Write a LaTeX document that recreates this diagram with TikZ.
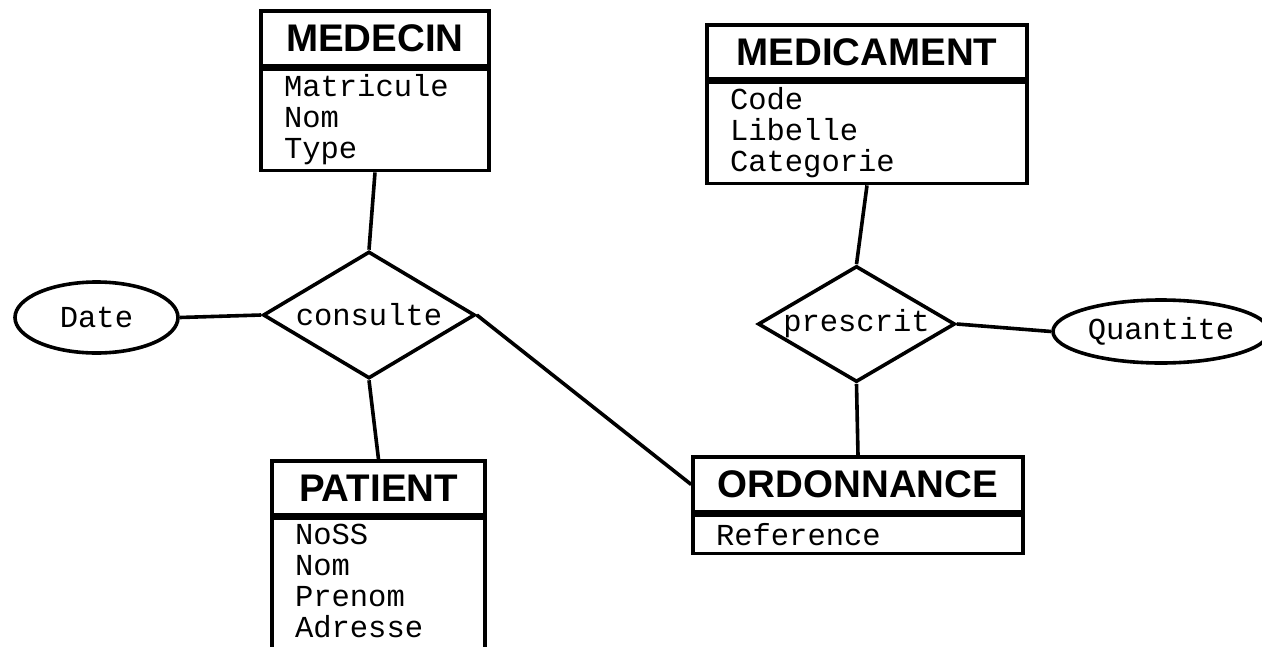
\documentclass[tikz,border=0pt]{standalone}
\usepackage{fontspec}
\newfontfamily\titrefont{Liberation Sans}
\newfontfamily\attrfont{Liberation Mono}
\usetikzlibrary{shapes.geometric}

\begin{document}
\begin{tikzpicture}[x=1pt, y=-1pt, line width=3.6pt,
		entete/.style={draw, inner sep=0pt, font=\titrefont\bfseries\fontsize{38.5}{40}\selectfont},
		corps/.style={draw, anchor=north, inner xsep=23pt, inner ysep=0pt, align=left, font=\attrfont\fontsize{30.5}{31}\selectfont},
		assoc/.style={draw, diamond, inner sep=0pt, font=\attrfont\fontsize{30.5}{31}\selectfont},
		propriete/.style={draw, ellipse, inner sep=0pt, font=\attrfont\fontsize{30.5}{31}\selectfont}]
		\useasboundingbox (0,0) rectangle (1262,646);
		
		% Entites
		\node[entete, minimum width=228pt, minimum height=55pt] (medecin) at (375,38.5) {MEDECIN};
		\node[corps, text width=182pt, minimum height=101pt] (medecin-attr) at (medecin.south) {Matricule\\Nom\\Type};
		
		\node[entete, minimum width=320pt, minimum height=54pt] (medicament) at (867,52) {MEDICAMENT};
		\node[corps, text width=274pt, minimum height=101pt] (medicament-attr) at (medicament.south) {Code\\Libelle\\Categorie};
		
		\node[entete, minimum width=213pt, minimum height=54pt] (patient) at (378.5,488) {PATIENT};
		\node[corps, text width=167pt, minimum height=136pt, text depth=104pt] (patient-attr) at (patient.south) {NoSS\\Nom\\Prenom\\Adresse};
		
		\node[entete, minimum width=330pt, minimum height=55pt] (ordonnance) at (858,484.5) {ORDONNANCE};
		\node[corps, text width=284pt, minimum height=38pt] (ordonnance-attr) at (ordonnance.south) {Reference};
		
		% Associations
		\node[assoc, aspect=1.68, minimum width=212pt, minimum height=127pt] (consulte) at (369,315) {consulte};
		\node[assoc, aspect=1.7, minimum width=197pt, minimum height=116pt] (prescrit) at (856.5,324) {prescrit};
		
		% Proprietes
		\node[propriete, minimum width=163pt, minimum height=71pt] (date) at (96.5,317.5) {Date};
		\node[propriete, minimum width=216pt, minimum height=63pt] (quantite) at (1161,331.5) {Quantite};
		
		% Liens
		\draw (medecin-attr.south) -- (consulte.north);
		\draw (consulte.south) -- (patient.north);
		\draw (date.east) -- (consulte.west);
		\draw (consulte.east) -- (ordonnance.west);
		\draw (medicament-attr.south) -- (prescrit.north);
		\draw (prescrit.south) -- (ordonnance.north);
		\draw (prescrit.east) -- (quantite.west);
	\end{tikzpicture}
\end{document}
